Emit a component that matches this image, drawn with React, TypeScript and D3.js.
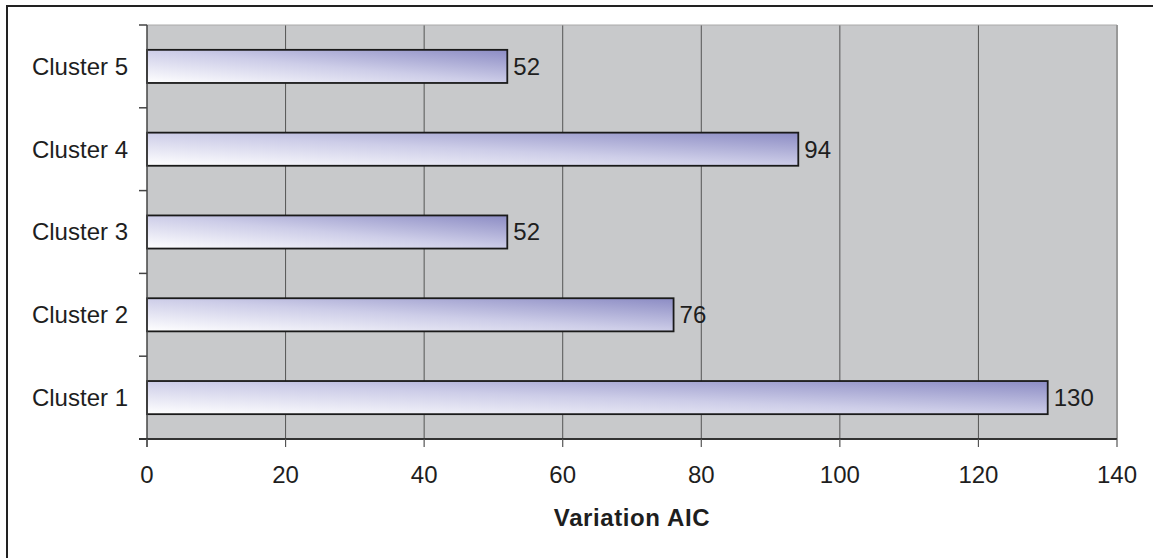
import React from "react";
import * as d3 from "d3";

const categories = ["Cluster 1", "Cluster 2", "Cluster 3", "Cluster 4", "Cluster 5"];
const values = [130, 76, 52, 94, 52];
const xTicks = [0, 20, 40, 60, 80, 100, 120, 140];
const xTitle = "Variation AIC";

const W = 1153;
const H = 558;
const plot = { left: 147, right: 1117, top: 25, bottom: 439 };
const FONT = "Liberation Sans, Arial, sans-serif";

export default function App() {
  const x = d3.scaleLinear().domain([0, 140]).range([plot.left, plot.right]);
  const y = d3
    .scaleBand<string>()
    .domain([...categories].reverse())
    .range([plot.top, plot.bottom])
    .padding(0);
  const bw = y.bandwidth();
  const barH = bw * 0.4;
  const boundaries = d3.range(categories.length + 1).map((i) => plot.top + i * y.step());

  return (
    <svg
      width={W}
      height={H}
      style={{ position: "absolute", left: 0, top: 0, background: "#fff" }}
      fontFamily={FONT}
    >
      <defs>
        <linearGradient id="barGrad" x1="0" y1="1" x2="1" y2="0">
          <stop offset="0%" stopColor="#ffffff" />
          <stop offset="50%" stopColor="#cdcde8" />
          <stop offset="100%" stopColor="#8c8cc4" />
        </linearGradient>
      </defs>
      <rect x={7} y={6} width={1170} height={580} fill="#fff" stroke="#222" strokeWidth={2} />
      <rect
        x={plot.left}
        y={plot.top}
        width={plot.right - plot.left}
        height={plot.bottom - plot.top}
        fill="#c8c9cb"
      />
      {xTicks.slice(1, -1).map((t) => (
        <line key={"g" + t} x1={x(t)} x2={x(t)} y1={plot.top} y2={plot.bottom} stroke="#555" strokeWidth={1} />
      ))}
      <line x1={plot.left} x2={plot.right} y1={plot.top} y2={plot.top} stroke="#aaa" strokeWidth={1} />
      <line x1={plot.right} x2={plot.right} y1={plot.top} y2={plot.bottom} stroke="#999" strokeWidth={2} />
      {categories.map((c, i) => {
        const yc = (y(c) as number) + bw / 2;
        return (
          <g key={c}>
            <rect
              x={x(0)}
              y={yc - barH / 2}
              width={x(values[i]) - x(0)}
              height={barH}
              fill="url(#barGrad)"
              stroke="#1a1a1a"
              strokeWidth={1.8}
            />
            <text x={x(values[i]) + 6} y={yc} dy="0.35em" fontSize={24} fill="#1e1e1e">
              {values[i]}
            </text>
            <text x={128} y={yc} dy="0.35em" fontSize={24} fill="#1e1e1e" textAnchor="end">
              {c}
            </text>
          </g>
        );
      })}
      <line x1={plot.left} x2={plot.left} y1={plot.top} y2={plot.bottom + 8} stroke="#444" strokeWidth={1.5} />
      {boundaries.map((b, i) => (
        <line key={"yt" + i} x1={plot.left - 8} x2={plot.left} y1={b} y2={b} stroke="#444" strokeWidth={1.5} />
      ))}
      <line x1={plot.left - 8} x2={plot.right} y1={plot.bottom} y2={plot.bottom} stroke="#333" strokeWidth={2} />
      {xTicks.map((t) => (
        <g key={"xt" + t}>
          <line x1={x(t)} x2={x(t)} y1={plot.bottom} y2={plot.bottom + 8} stroke="#555" strokeWidth={1.2} />
          <text x={x(t)} y={483} fontSize={24} fill="#1e1e1e" textAnchor="middle">
            {t}
          </text>
        </g>
      ))}
      <text
        x={(plot.left + plot.right) / 2}
        y={526}
        fontSize={24}
        fontWeight="bold"
        fill="#1e1e1e"
        textAnchor="middle"
        letterSpacing={0.6}
      >
        {xTitle}
      </text>
    </svg>
  );
}
